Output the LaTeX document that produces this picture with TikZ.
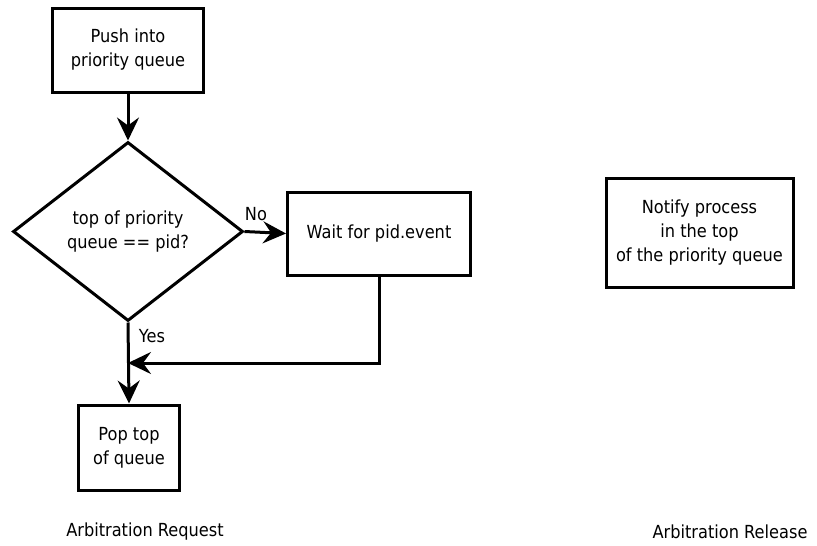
\documentclass[tikz,border=0pt]{standalone}
\usepackage{fontspec}
\setmainfont{DejaVu Sans}[FakeStretch=0.9]
\usetikzlibrary{shapes.geometric,arrows.meta}
\begin{document}
\begin{tikzpicture}[x=1pt,y=-1pt,
  every node/.style={font=\fontsize{18}{24}\selectfont},
  stepbox/.style={draw,line width=3pt,align=center,inner sep=0pt},
  decision/.style={draw,diamond,line width=3pt,align=center,inner sep=0pt,
    minimum width=230pt,minimum height=179pt},
  flow/.style={line width=3pt,-{Stealth[length=23pt,width=22pt,inset=8pt]}},
  plainlabel/.style={inner sep=0pt}]
\useasboundingbox (0,0) rectangle (817,546);

% request side
\node[stepbox,minimum width=151pt,minimum height=84pt] (push) at (128,50)
  {Push into\\priority queue};
\node[decision] (dec) at (128,231.5) {top of priority\\queue == pid?};
\node[stepbox,minimum width=183pt,minimum height=83pt] (wait) at (379,233.5)
  {Wait for pid.event};
\node[stepbox,minimum width=101pt,minimum height=85pt] (pop) at (129,447.5)
  {Pop top\\of queue};
\coordinate (merge) at (128,363);

\draw[flow] (push.south) -- (dec.north);
\draw[flow] (dec.east) -- (wait.west);
\draw[flow] (dec.south) -- (pop.north);
\draw[flow] (wait.south) |- (merge);

\node[plainlabel] (nolbl) at (256,214) {No};
\node[plainlabel] (yeslbl) at (152,336) {Yes};

% release side
\node[stepbox,minimum width=187pt,minimum height=109pt] (notify) at (699.5,232.5)
  {Notify process\\in the top\\of the priority queue};

\node[plainlabel] (reqlbl) at (145,532) {Arbitration Request};
\node[plainlabel] (rellbl) at (730,532) {Arbitration Release};
\end{tikzpicture}
\end{document}
